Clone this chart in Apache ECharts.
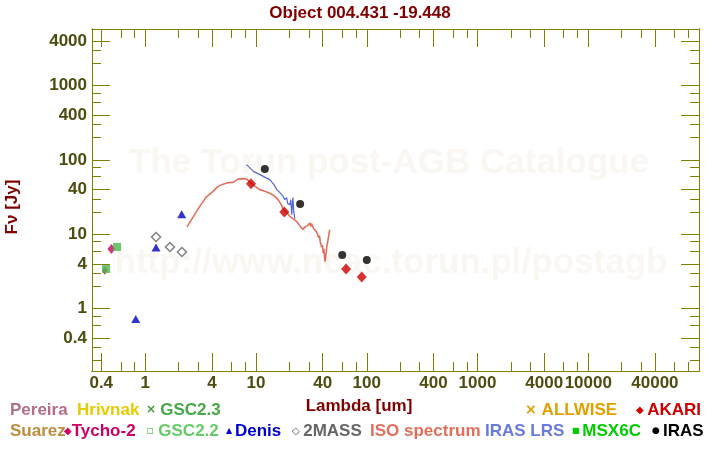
<!DOCTYPE html>
<html><head><meta charset="utf-8">
<script src="https://cdn.jsdelivr.net/npm/echarts@6/dist/echarts.min.js"></script>
<style>html,body{margin:0;padding:0;background:#fff}#c{width:720px;height:450px}</style>
</head><body><div id="c"></div>
<script>
// ---- tick labels / tick positions ----
const xTickLabels = [0.4, 1, 4, 10, 40, 100, 400, 1000, 4000, 10000, 40000, 100000];
const xMinorTicks = [0.6, 0.8, 2, 3, 6, 8, 20, 30, 60, 80, 200, 300, 600, 800, 2000, 3000, 6000, 8000, 20000, 30000, 60000, 80000];
const yTickLabels = [0.4, 1, 4, 10, 40, 100, 400, 1000, 4000];
const yMinorTicks = [0.2, 0.3, 0.6, 0.8, 2, 3, 6, 8, 20, 30, 60, 80, 200, 300, 600, 800, 2000, 3000];

// ---- data (wavelength um, flux Jy) ----
const tycho2X = [0.430, 0.494];
const tycho2Y = [3.25, 6.36];
const gsc22X = [0.442, 0.555];
const gsc22Y = [3.42, 6.77];
const denisX = [0.82, 1.25, 2.13];
const denisY = [0.727, 6.68, 18.6];
const twomassX = [1.25, 1.67, 2.14];
const twomassY = [9.23, 6.77, 5.80];
const irasX = [12, 25, 60, 100];
const irasY = [75.9, 25.7, 5.28, 4.52];
const akariX = [9, 18, 65, 90];
const akariY = [48.1, 20.0, 3.42, 2.67];
const isoX = [2.38, 2.68, 3.10, 3.51, 4.09, 4.51, 5.03, 5.55, 6.20, 6.88, 7.58, 8.19, 9.01, 9.73, 10.8, 12.0, 13.3, 14.5, 15.8, 16.7, 17.5, 18.9, 20.2, 21.5, 23.2, 24.8, 25.6, 26.6, 27.3, 28.1, 29.0, 29.9, 30.5, 31.2, 31.7, 32.3, 33.2, 34.0, 35.1, 36.0, 36.8, 37.4, 38.0, 38.6, 39.2, 39.8, 40.4, 41.0, 41.6, 42.0, 42.5, 43.1, 43.7, 44.4, 45.3, 46.3];
const isoY = [12.6, 16.8, 23.8, 31.2, 37.9, 43.9, 47.4, 49.6, 50.1, 55.3, 56.2, 55.7, 48.9, 44.5, 40.0, 38.1, 35.8, 33.2, 29.3, 25.9, 22.2, 19.6, 17.5, 16.3, 15.0, 13.1, 12.4, 11.6, 12.4, 12.0, 13.0, 12.6, 14.2, 12.8, 14.0, 13.0, 11.9, 11.4, 10.9, 10.0, 9.0, 9.6, 7.9, 8.4, 6.7, 7.2, 5.6, 6.4, 4.8, 4.3, 4.9, 5.85, 7.2, 8.0, 9.6, 11.6];
const lrsX = [8.19, 8.77, 9.53, 10.4, 11.3, 12.2, 13.3, 14.5, 15.4, 16.4, 17.4, 18.2, 18.9, 19.3, 20.2, 20.6, 21.0, 21.5, 21.9, 22.4];
const lrsY = [86.7, 79.0, 69.8, 65.6, 61.7, 58.0, 54.5, 46.7, 40.0, 36.4, 33.2, 29.3, 31.2, 25.9, 25.1, 29.3, 18.4, 31.2, 20.2, 16.3];

const L = Math.log10;
const pts = (xs, ys) => xs.map((x, i) => [L(x), L(ys[i])]);
const FONT = 'Liberation Sans, Arial, sans-serif';
const OLIVE = '#808000';
const LABEL = '#4d4d10';
const X_MIN = L(0.33), X_MAX = 5;
const Y_MIN = L(0.145), Y_MAX = L(5800);
const fmt = v => String(Math.round(Math.pow(10, v) * 10) / 10);

function mkAxis(kind, pos, ticks, len, withLabel, labels) {
  const isX = kind === 'x';
  return {
    type: 'value', position: pos,
    min: isX ? X_MIN : Y_MIN, max: isX ? X_MAX : Y_MAX,
    axisLine: { show: true, onZero: false, lineStyle: { color: OLIVE, width: 1 } },
    axisTick: { show: true, inside: true, length: len, customValues: ticks.map(L), lineStyle: { color: OLIVE, width: 1 } },
    axisLabel: withLabel ? {
      show: true, customValues: labels.map(L), formatter: fmt,
      color: LABEL, fontFamily: FONT, fontWeight: 'bold', fontSize: 17,
      margin: isX ? 4 : 5, padding: isX ? 0 : [4, 0, 0, 0]
    } : { show: false },
    splitLine: { show: false }
  };
}

function legendText(x, y, icon, iconColor, text, color, iconSize) {
  return {
    type: 'text', x: x, y: y, z: 10,
    style: {
      text: (icon ? '{i|' + icon + '}' : '') + '{t|' + text + '}',
      verticalAlign: 'middle', align: 'left',
      rich: {
        i: { fill: iconColor, fontSize: iconSize || 11, fontFamily: 'DejaVu Sans, sans-serif', fontWeight: 'bold' },
        t: { fill: color, fontSize: 17, fontFamily: FONT, fontWeight: 'bold' }
      }
    }
  };
}

const chart = echarts.init(document.getElementById('c'), null, { renderer: 'canvas' });
chart.setOption({
  animation: false,
  backgroundColor: '#fff',
  title: {
    text: 'Object 004.431 -19.448', left: 'center', top: 5, padding: 0,
    textStyle: { color: '#800000', fontSize: 17, fontWeight: 'bold', fontFamily: FONT }
  },
  grid: { left: 92, right: 21, top: 29, bottom: 79, containLabel: false },
  xAxis: [
    mkAxis('x', 'bottom', xTickLabels, 18, true, xTickLabels.slice(0, 11)),
    mkAxis('x', 'bottom', xMinorTicks, 9, false),
    mkAxis('x', 'top', xTickLabels, 18, false),
    mkAxis('x', 'top', xMinorTicks, 9, false)
  ],
  yAxis: [
    mkAxis('y', 'left', yTickLabels, 18, true, yTickLabels),
    mkAxis('y', 'left', yMinorTicks, 9, false),
    mkAxis('y', 'right', yTickLabels, 18, false),
    mkAxis('y', 'right', yMinorTicks, 9, false)
  ],
  graphic: [
    { type: 'text', x: 389, y: 163, z: 0, silent: true, style: { text: 'The Torun post-AGB Catalogue', align: 'center', verticalAlign: 'middle', fill: '#faf7f2', fontSize: 35, fontWeight: 'bold', fontFamily: FONT } },
    { type: 'text', x: 391, y: 263, z: 0, silent: true, style: { text: 'http://www.ncac.torun.pl/postagb', align: 'center', verticalAlign: 'middle', fill: '#faf7f2', fontSize: 35, fontWeight: 'bold', fontFamily: FONT } },
    { type: 'text', x: 359, y: 406, style: { text: 'Lambda [um]', align: 'center', verticalAlign: 'middle', fill: '#800000', fontSize: 17, fontWeight: 'bold', fontFamily: FONT } },
    { type: 'text', x: 12, y: 207, rotation: Math.PI / 2, style: { text: 'F\u03bd [Jy]', align: 'center', verticalAlign: 'middle', fill: '#800000', fontSize: 17, fontWeight: 'bold', fontFamily: FONT } },
    legendText(10, 410, '', '', 'Pereira', '#b46e84'),
    legendText(77, 410, '', '', 'Hrivnak', '#e6cc00'),
    legendText(146, 410, '\u00d7 ', '#3c9c3c', 'GSC2.3', '#46a846', 12),
    legendText(525, 410, '\u00d7 ', '#e0a000', 'ALLWISE', '#e0a000', 14),
    legendText(636, 410, '\u25c6 ', '#cc0000', 'AKARI', '#cc0000', 10),
    legendText(10, 431, '', '', 'Suarez', '#c08c3c'),
    legendText(64, 431, '\u25c6', '#cc0066', 'Tycho-2', '#cc0066', 10),
    legendText(146, 431, '\u25ab ', '#66cc66', 'GSC2.2', '#66cc66', 12),
    legendText(226, 431, '\u25b2 ', '#0000cc', 'Denis', '#0000cc', 8),
    legendText(292, 431, '\u25c7 ', '#555555', '2MASS', '#666666', 10),
    legendText(370, 431, '', '', 'ISO spectrum', '#e0705c'),
    legendText(485, 431, '', '', 'IRAS LRS', '#6a7ad8'),
    legendText(572, 431, '\u25a0 ', '#00cc00', 'MSX6C', '#00cc00', 8),
    legendText(652, 431, '\u25cf ', '#000000', 'IRAS', '#000000', 9)
  ],
  series: [
    { name: 'ISO spectrum', type: 'line', data: pts(isoX, isoY), showSymbol: false, symbol: 'none', lineStyle: { color: '#e0705c', width: 1.6 }, z: 2 },
    { name: 'IRAS LRS', type: 'line', data: pts(lrsX, lrsY), showSymbol: false, symbol: 'none', lineStyle: { color: '#5566d6', width: 1.2 }, z: 3 },
    { name: 'Tycho-2', type: 'scatter', data: pts(tycho2X, tycho2Y), symbol: 'diamond', symbolSize: (v, p) => p.dataIndex === 0 ? [6, 8] : [8, 10], itemStyle: { color: '#cc0066' }, z: 4 },
    { name: 'GSC2.2', type: 'scatter', data: pts(gsc22X, gsc22Y), symbol: 'rect', symbolSize: 8, itemStyle: { color: '#4cb84c' }, z: 5 },
    { name: 'Denis', type: 'scatter', data: pts(denisX, denisY), symbol: 'triangle', symbolSize: [9, 8], itemStyle: { color: '#0000c0' }, z: 5 },
    { name: '2MASS', type: 'scatter', data: pts(twomassX, twomassY), symbol: 'diamond', symbolSize: 9, itemStyle: { color: '#fff', borderColor: '#606060', borderWidth: 1.5 }, z: 5 },
    { name: 'AKARI', type: 'scatter', data: pts(akariX, akariY), symbol: 'diamond', symbolSize: [10, 11], itemStyle: { color: '#cc0000' }, z: 6 },
    { name: 'IRAS', type: 'scatter', data: pts(irasX, irasY), symbol: 'circle', symbolSize: 8, itemStyle: { color: '#000' }, z: 6 }
  ]
});
</script>
</body></html>
